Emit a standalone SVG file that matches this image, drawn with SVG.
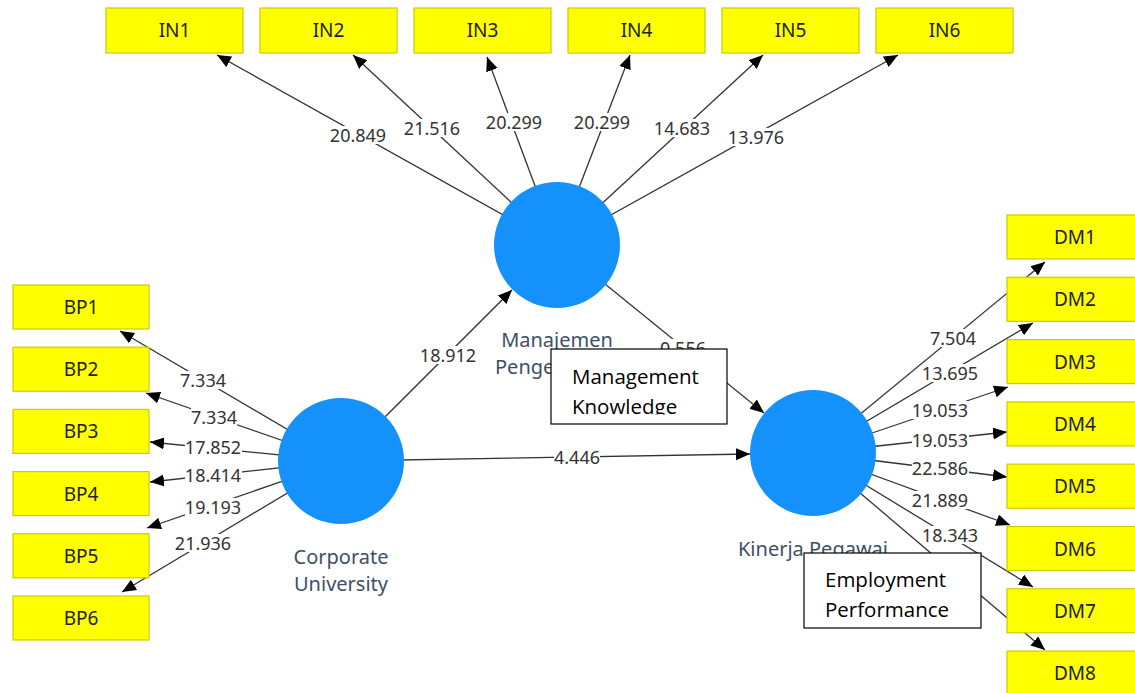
<svg xmlns="http://www.w3.org/2000/svg" width="1135" height="693" viewBox="0 0 1135 693">
<style>
  .ln{stroke:#333;stroke-width:1.3;fill:none;marker-end:url(#ah)}
  .lbl rect{fill:#fff}
  .lbl text{font-family:"Noto Sans","Open Sans",sans-serif;font-size:18px;fill:#333;text-anchor:middle}
  .ind rect{fill:#ffff00;stroke:#cccc00;stroke-width:1.2}
  .ind text{font-family:"Noto Sans","Open Sans",sans-serif;font-size:19px;fill:#222;text-anchor:middle}
  .lv circle{fill:#1591fb}
  .lv text{font-family:"Noto Sans","Open Sans",sans-serif;font-size:20px;fill:#3d4f66;text-anchor:middle}
  .note rect{fill:#fff;stroke:#000;stroke-width:1.2}
  .note text{font-family:"Open Sans","Noto Sans",sans-serif;font-size:20.5px;fill:#000}
</style>
<defs>
  <marker id="ah" markerUnits="userSpaceOnUse" markerWidth="15" markerHeight="13" refX="14" refY="6" orient="auto">
    <path d="M0,0 L14,6 L0,12 Z" fill="#000"/>
  </marker>
  <clipPath id="clipMK"><rect x="551" y="349" width="176" height="65.5"/></clipPath>
  <clipPath id="clipPg"><rect x="480" y="355" width="71" height="30"/></clipPath>
</defs>
<rect width="1135" height="693" fill="#fff"/>

<g id="connectors">
  <line class="ln" x1="557" y1="245" x2="217" y2="55"/>
  <line class="ln" x1="557" y1="245" x2="353" y2="55"/>
  <line class="ln" x1="557" y1="245" x2="487" y2="57"/>
  <line class="ln" x1="557" y1="245" x2="630" y2="55"/>
  <line class="ln" x1="557" y1="245" x2="763" y2="55"/>
  <line class="ln" x1="557" y1="245" x2="898" y2="55"/>
  <line class="ln" x1="341" y1="461" x2="120" y2="331"/>
  <line class="ln" x1="341" y1="461" x2="146" y2="393"/>
  <line class="ln" x1="341" y1="461" x2="150" y2="442"/>
  <line class="ln" x1="341" y1="461" x2="150" y2="482"/>
  <line class="ln" x1="341" y1="461" x2="147" y2="528"/>
  <line class="ln" x1="341" y1="461" x2="122" y2="592"/>
  <line class="ln" x1="813" y1="453" x2="1045" y2="262"/>
  <line class="ln" x1="813" y1="453" x2="1033" y2="323"/>
  <line class="ln" x1="813" y1="453" x2="1008" y2="387"/>
  <line class="ln" x1="813" y1="453" x2="1007" y2="432"/>
  <line class="ln" x1="813" y1="453" x2="1007" y2="477"/>
  <line class="ln" x1="813" y1="453" x2="1010" y2="525"/>
  <line class="ln" x1="813" y1="453" x2="1033" y2="587"/>
  <line class="ln" x1="813" y1="453" x2="1045" y2="650"/>
  <line class="ln" x1="341" y1="461" x2="512" y2="290"/>
  <line class="ln" x1="557" y1="245" x2="764" y2="413"/>
  <line class="ln" x1="341" y1="461" x2="750" y2="454"/>

  <g class="lbl"><rect x="330" y="126" width="57" height="18"/><text x="358" y="141.5">20.849</text></g>
  <g class="lbl"><rect x="404" y="119" width="57" height="18"/><text x="432" y="134.5">21.516</text></g>
  <g class="lbl"><rect x="486" y="113" width="57" height="18"/><text x="514" y="128.5">20.299</text></g>
  <g class="lbl"><rect x="574" y="113" width="57" height="18"/><text x="602" y="128.5">20.299</text></g>
  <g class="lbl"><rect x="654" y="119" width="57" height="18"/><text x="682" y="134.5">14.683</text></g>
  <g class="lbl"><rect x="728" y="128" width="57" height="18"/><text x="756" y="143.5">13.976</text></g>

  <g class="lbl"><rect x="180" y="371" width="46" height="18"/><text x="203" y="386.5">7.334</text></g>
  <g class="lbl"><rect x="191" y="408" width="46" height="18"/><text x="214" y="423.5">7.334</text></g>
  <g class="lbl"><rect x="185" y="438" width="57" height="18"/><text x="213" y="453.5">17.852</text></g>
  <g class="lbl"><rect x="185" y="466" width="57" height="18"/><text x="213" y="481.5">18.414</text></g>
  <g class="lbl"><rect x="185" y="498" width="57" height="18"/><text x="213" y="513.5">19.193</text></g>
  <g class="lbl"><rect x="175" y="534" width="57" height="18"/><text x="203" y="549.5">21.936</text></g>

  <g class="lbl"><rect x="930" y="329" width="46" height="18"/><text x="953" y="344.5">7.504</text></g>
  <g class="lbl"><rect x="922" y="364" width="57" height="18"/><text x="950" y="379.5">13.695</text></g>
  <g class="lbl"><rect x="912" y="401" width="57" height="18"/><text x="940" y="416.5">19.053</text></g>
  <g class="lbl"><rect x="912" y="431" width="57" height="18"/><text x="940" y="446.5">19.053</text></g>
  <g class="lbl"><rect x="912" y="459" width="57" height="18"/><text x="940" y="474.5">22.586</text></g>
  <g class="lbl"><rect x="912" y="491" width="57" height="18"/><text x="940" y="506.5">21.889</text></g>
  <g class="lbl"><rect x="922" y="526" width="57" height="18"/><text x="950" y="541.5">18.343</text></g>

  <g class="lbl"><rect x="420" y="346" width="57" height="18"/><text x="448" y="361.5">18.912</text></g>
  <g class="lbl"><rect x="660" y="339" width="46" height="18"/><text x="683" y="354.5">0.556</text></g>
  <g class="lbl"><rect x="554" y="448" width="46" height="18"/><text x="577" y="463.5">4.446</text></g>
</g>

<g id="IN1" class="ind"><rect x="106" y="8" width="137" height="45"/><text x="174.5" y="37">IN1</text></g>
<g id="IN2" class="ind"><rect x="260" y="8" width="137" height="45"/><text x="328.5" y="37">IN2</text></g>
<g id="IN3" class="ind"><rect x="414" y="8" width="137" height="45"/><text x="482.5" y="37">IN3</text></g>
<g id="IN4" class="ind"><rect x="568" y="8" width="137" height="45"/><text x="636.5" y="37">IN4</text></g>
<g id="IN5" class="ind"><rect x="722" y="8" width="137" height="45"/><text x="790.5" y="37">IN5</text></g>
<g id="IN6" class="ind"><rect x="876" y="8" width="137" height="45"/><text x="944.5" y="37">IN6</text></g>

<g id="BP1" class="ind"><rect x="13" y="285" width="136" height="44"/><text x="81" y="314">BP1</text></g>
<g id="BP2" class="ind"><rect x="13" y="347.2" width="136" height="44"/><text x="81" y="376.2">BP2</text></g>
<g id="BP3" class="ind"><rect x="13" y="409.4" width="136" height="44"/><text x="81" y="438.4">BP3</text></g>
<g id="BP4" class="ind"><rect x="13" y="471.6" width="136" height="44"/><text x="81" y="500.6">BP4</text></g>
<g id="BP5" class="ind"><rect x="13" y="533.8" width="136" height="44"/><text x="81" y="562.8">BP5</text></g>
<g id="BP6" class="ind"><rect x="13" y="596" width="136" height="44"/><text x="81" y="625">BP6</text></g>

<g id="DM1" class="ind"><rect x="1007" y="215" width="137" height="44"/><text x="1075" y="244">DM1</text></g>
<g id="DM2" class="ind"><rect x="1007" y="277.3" width="137" height="44"/><text x="1075" y="306.3">DM2</text></g>
<g id="DM3" class="ind"><rect x="1007" y="339.6" width="137" height="44"/><text x="1075" y="368.6">DM3</text></g>
<g id="DM4" class="ind"><rect x="1007" y="401.9" width="137" height="44"/><text x="1075" y="430.9">DM4</text></g>
<g id="DM5" class="ind"><rect x="1007" y="464.2" width="137" height="44"/><text x="1075" y="493.2">DM5</text></g>
<g id="DM6" class="ind"><rect x="1007" y="526.5" width="137" height="44"/><text x="1075" y="555.5">DM6</text></g>
<g id="DM7" class="ind"><rect x="1007" y="588.8" width="137" height="44"/><text x="1075" y="617.8">DM7</text></g>
<g id="DM8" class="ind"><rect x="1007" y="651.1" width="137" height="44"/><text x="1075" y="680.1">DM8</text></g>

<g id="ManajemenPengetahuan" class="lv">
  <circle cx="557" cy="245" r="63"/>
  <text x="557" y="347">Manajemen</text>
  <text x="495" y="374" style="text-anchor:start" clip-path="url(#clipPg)">Penge</text>
</g>
<g id="CorporateUniversity" class="lv">
  <circle cx="341" cy="461" r="63"/>
  <text x="341" y="564">Corporate</text>
  <text x="341" y="591">University</text>
</g>
<g id="KinerjaPegawai" class="lv">
  <circle cx="813" cy="453" r="63"/>
  <text x="813" y="556">Kinerja Pegawai</text>
</g>

<g id="note-management" class="note">
  <rect x="551" y="349" width="176" height="75"/>
  <g clip-path="url(#clipMK)">
    <text x="572" y="384">Management</text>
    <text x="572" y="414">Knowledge</text>
  </g>
</g>
<g id="note-employment" class="note">
  <rect x="804" y="553" width="177" height="75"/>
  <text x="825" y="587">Employment</text>
  <text x="825" y="617">Performance</text>
</g>
</svg>
